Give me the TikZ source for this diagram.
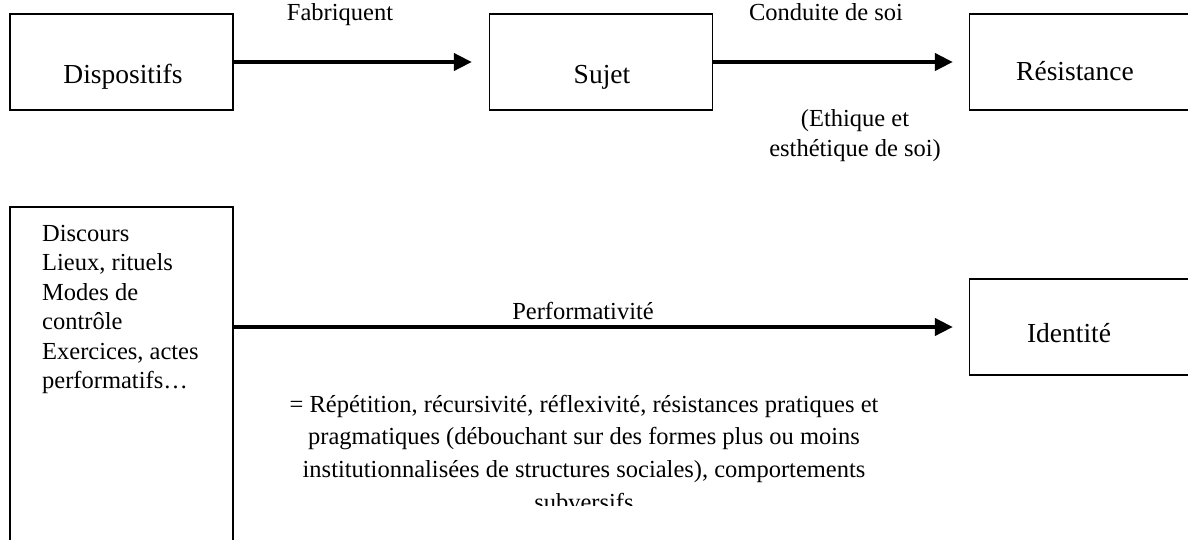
\documentclass[tikz,border=0pt]{standalone}
\usepackage{fontspec}
\setmainfont{Liberation Serif}
\usetikzlibrary{arrows.meta}
\begin{document}
\begin{tikzpicture}[x=1pt,y=-1pt,
  box/.style={draw, line width=1.3pt, inner sep=0pt, minimum width=223pt, minimum height=96pt},
  flow/.style={line width=4pt, -{Triangle[length=18pt,width=17pt]}},
  big/.style={font=\fontsize{27.5}{32}\selectfont, inner sep=0pt, anchor=base},
  small/.style={font=\fontsize{24.5}{32}\selectfont, inner sep=0pt, anchor=base},
  item/.style={small, anchor=base west},
]
\useasboundingbox (0,0) rectangle (1188,539);

% boxes
\node[box] (disp) at (121.5,62) {};
\node[box] (sujet) at (601,62) {};
\node[box] (res) at (1081,62) {};
\node[box, minimum height=400pt] (disc) at (121.5,407) {};
\node[box] (ident) at (1081,327) {};

% box labels
\node[big] (dispT) at (123,83) {Dispositifs};
\node[big] (sujetT) at (602,83) {Sujet};
\node[big] (resT) at (1075,80) {Résistance};
\node[big] (identT) at (1069,342) {Identité};

% list inside the left box
\node[item] (l1) at (42,241) {Discours};
\node[item] (l2) at (42,270.5) {Lieux, rituels};
\node[item] (l3) at (42,300) {Modes de};
\node[item] (l4) at (42,329.5) {contrôle};
\node[item] (l5) at (42,359) {Exercices, actes};
\node[item] (l6) at (42,388.5) {performatifs…};

% connectors
\draw[flow, shorten >=17pt] (disp.east) -- (sujet.west);
\draw[flow, shorten >=16pt] (sujet.east) -- (res.west);
\draw[flow, shorten >=16pt] (disc.east |- ident.west) -- (ident.west);

% connector labels
\node[small] (fab) at (340,20) {Fabriquent};
\node[small] (cond) at (826,20) {Conduite de soi};
\node[small] (eth1) at (855,126) {(Ethique et};
\node[small] (eth2) at (855,156) {esthétique de soi)};
\node[small] (perf) at (583,319) {Performativité};

% description below the long connector, cut off at the bottom of its frame
\begin{scope}
  \clip (250,380) rectangle (930,505);
  \node[small] (d1) at (584,412) {= Répétition, récursivité, réflexivité, résistances pratiques et};
  \node[small] (d2) at (584,444) {pragmatiques (débouchant sur des formes plus ou moins};
  \node[small] (d3) at (584,477) {institutionnalisées de structures sociales), comportements};
  \node[small] (d4) at (584,510) {subversifs};
\end{scope}
\end{tikzpicture}
\end{document}
